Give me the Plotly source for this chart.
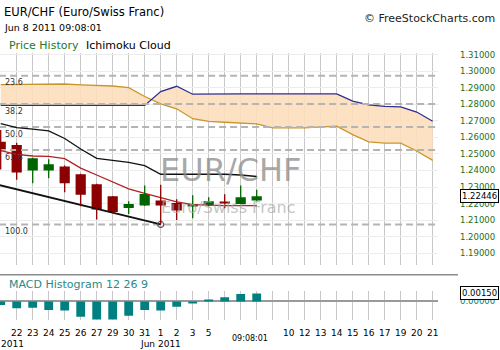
import plotly.graph_objects as go

# ---------------- data ----------------
slots = list(range(28))  # trading-day slots (May 20 ... Jun 21)
day_labels = ["", "22", "23", "24", "25", "26", "27", "29", "30", "31", "1", "2", "3", "5",
              "", "", "", "", "10", "12", "13", "14", "15", "16", "17", "19", "20", "21"]

opens  = [1.25731, 1.25533, 1.23994, 1.23994, 1.24234, 1.23772, 1.23174, 1.22437, 1.21737,
          1.21880, 1.22180, 1.22036, 1.21838, 1.21898, 1.22078, 1.21976, 1.22180]
highs  = [1.26449, 1.25671, 1.24772, 1.24671, 1.24293, 1.23800, 1.23200, 1.22450, 1.22138,
          1.23096, 1.23138, 1.22257, 1.22497, 1.22377, 1.22557, 1.23096, 1.22838]
lows   = [1.24054, 1.23437, 1.23234, 1.23533, 1.22677, 1.21838, 1.21042, 1.21419, 1.21377,
          1.21850, 1.20740, 1.21000, 1.21120, 1.21838, 1.21719, 1.21958, 1.22170]
closes = [1.25234, 1.23874, 1.24731, 1.24371, 1.23234, 1.22539, 1.21641, 1.21497, 1.21976,
          1.22575, 1.21880, 1.21581, 1.21958, 1.22138, 1.22000, 1.22377, 1.22446]

tenkan = [1.25192, 1.24970, 1.24874, 1.24850, 1.24713, 1.24144, 1.23725, 1.23305, 1.22886,
          1.22617, 1.22347, 1.22096, 1.21940, 1.21898, 1.21880, 1.21880, 1.21880]
kijun  = [1.26826, 1.26587, 1.26491, 1.26389, 1.25928, 1.25293, 1.24731, 1.24593, 1.24491,
          1.24293, 1.23772, 1.23772, 1.23772, 1.23772, 1.23772, 1.23725, 1.23635]

senkou_a = [1.27928, 1.27928, 1.27928, 1.27928, 1.27928, 1.27928, 1.27928, 1.27928, 1.27928,
            1.27928, 1.28766, 1.29084, 1.28605, 1.28623, 1.28623, 1.28623, 1.28623, 1.28623,
            1.28623, 1.28623, 1.28623, 1.28623, 1.28186, 1.27964, 1.27868, 1.27844, 1.27527,
            1.26970]
senkou_b = [1.29186, 1.29204, 1.29222, 1.29234, 1.29222, 1.29174, 1.29144, 1.29102, 1.29006,
            1.28467, 1.28024, 1.27725, 1.27126, 1.26970, 1.26910, 1.26850, 1.26808, 1.26569,
            1.26569, 1.26569, 1.26629, 1.26671, 1.26168, 1.25731, 1.25653, 1.25653, 1.25174,
            1.24611]

macd_hist = [-0.0007, -0.0013, -0.0012, -0.0016, -0.0017, -0.0029, -0.0034, -0.0034, -0.0027,
             -0.0016, -0.0017, -0.0010, -0.0004, 0.0003, 0.0008, 0.0014, 0.0015]

trend_x = [-1, 10]
trend_y = [1.2333, 1.2074]

fib_high, fib_low = 1.3250, 1.2074
fib_levels = [23.6, 38.2, 50.0, 61.8, 100.0]

y_ticks = [1.19, 1.20, 1.21, 1.22, 1.23, 1.24, 1.25, 1.26, 1.27, 1.28, 1.29, 1.30, 1.31]

# ---------------- helpers ----------------
W, H = 500, 350
def px(x):
    return x / W
def py(y):
    return 1 - y / H

FONT = "DejaVu Sans"
RED = "#8b0000"
GREEN = "#006400"
TEAL = "#008080"

n = len(opens)
kx = slots[:n]

fig = go.Figure()

# cloud
fig.add_trace(go.Scatter(x=slots, y=senkou_b, mode="lines", line=dict(color="#c8962a", width=1.3),
                         xaxis="x", yaxis="y"))
fig.add_trace(go.Scatter(x=slots, y=senkou_a, mode="lines", line=dict(color="#2e2e8f", width=1.3),
                         fill="tonexty", fillcolor="rgba(253,222,188,0.9)", xaxis="x", yaxis="y"))

# fib lines
x_end = 27.15
for lvl in fib_levels:
    v = fib_high - lvl / 100 * (fib_high - fib_low)
    fig.add_trace(go.Scatter(x=[-0.1, x_end], y=[v, v], mode="lines",
                             line=dict(color="#b4b4b4", width=2, dash="7px,4px"),
                             xaxis="x", yaxis="y"))

# kijun / tenkan
fig.add_trace(go.Scatter(x=kx, y=kijun, mode="lines", line=dict(color="#111111", width=1.3)))
fig.add_trace(go.Scatter(x=kx, y=tenkan, mode="lines", line=dict(color="#b22222", width=1.3)))

# trend line
fig.add_trace(go.Scatter(x=trend_x, y=trend_y, mode="lines", line=dict(color="#111111", width=1.8)))
fig.add_trace(go.Scatter(x=[trend_x[-1]], y=[trend_y[-1]], mode="markers",
                         marker=dict(symbol="circle-open", size=6, color="#555555", line=dict(width=1.2))))

# candles: wicks
for up, col in ((False, RED), (True, GREEN)):
    wx, wy = [], []
    for i in range(n):
        if (closes[i] >= opens[i]) == up:
            wx += [kx[i], kx[i], None]
            wy += [lows[i], highs[i], None]
    fig.add_trace(go.Scatter(x=wx, y=wy, mode="lines", line=dict(color=col, width=1.3)))

# candles: bodies
body_h = [max(abs(c - o), 0.00008) for o, c in zip(opens, closes)]
body_b = [min(o, c) for o, c in zip(opens, closes)]
body_c = [GREEN if c >= o else RED for o, c in zip(opens, closes)]
fig.add_trace(go.Bar(x=kx, y=body_h, base=body_b, width=0.64, marker=dict(color=body_c, line=dict(width=0)),
                     xaxis="x", yaxis="y"))

# MACD histogram
fig.add_trace(go.Bar(x=kx, y=macd_hist, width=0.55, marker=dict(color=TEAL, line=dict(width=0)),
                     xaxis="x2", yaxis="y2"))

# ---------------- layout ----------------
x_dom = [0, px(438)]
x_rng = [(-0.7) / 16, (438 - 0.7) / 16]

fig.update_layout(
    width=W, height=H, margin=dict(l=0, r=0, t=0, b=0),
    paper_bgcolor="white", plot_bgcolor="white",
    showlegend=False, hovermode=False, barmode="overlay",
    font=dict(family=FONT, size=9, color="#000"),
    xaxis=dict(domain=x_dom, range=x_rng, anchor="y", tickvals=slots, showticklabels=False,
               showgrid=True, gridcolor="#c8c8c8", gridwidth=1, zeroline=False, ticks=""),
    yaxis=dict(domain=[py(264), py(50)], range=[1.31 - 212 / 1670, 1.31 + 2 / 1670], side="right",
               anchor="x", tickvals=y_ticks, ticktext=[f"{v:.5f}" for v in y_ticks],
               tickfont=dict(family=FONT, size=8.5, color="#1a6e1a"), ticklabelstandoff=21,
               showgrid=True, gridcolor="#ececec", zeroline=False, ticks=""),
    xaxis2=dict(domain=x_dom, range=x_rng, anchor="y2", matches="x", tickvals=slots, ticktext=day_labels,
                showgrid=True, gridcolor="#c8c8c8", gridwidth=1, zeroline=False, ticks="",
                tickfont=dict(family=FONT, size=9, color="#000"), ticklabelstandoff=6),
    yaxis2=dict(domain=[py(320), py(290)], range=[-0.0035625, 0.0020625], side="right", anchor="x2",
                tickvals=[0], ticktext=["0.00000"], tickfont=dict(family=FONT, size=8.5, color=TEAL),
                ticklabelstandoff=21, showgrid=False, zeroline=True, zerolinecolor="#9a9a9a",
                zerolinewidth=1.5, ticks=""),
)

# separator line under main chart
fig.add_shape(type="line", xref="paper", yref="paper", x0=0, x1=px(458), y0=py(274), y1=py(274),
              line=dict(color="#8c8c8c", width=1.5))

ann = []
def text(x, y, s, size, color="#000", xanchor="left", **kw):
    ann.append(dict(x=x, y=y, xref=kw.pop("xref", "paper"), yref=kw.pop("yref", "paper"), text=s,
                    showarrow=False, xanchor=xanchor, yanchor="middle",
                    font=dict(family=FONT, size=size, color=color), **kw))

text(px(2), py(9.5), "EUR/CHF (Euro/Swiss Franc)", 11.5)
text(px(2), py(25), "Jun 8 2011 09:08:01", 9.5)
text(px(7), py(43), "Price History", 11, "#1e7b1e")
text(px(84), py(43), "Ichimoku Cloud", 11)
text(px(497), py(16), "© FreeStockCharts.com", 11, "#222", xanchor="right")
text(px(158), py(168.5), "EUR/CHF", 32, "rgba(140,140,140,0.75)")
text(px(159), py(206), "Euro/Swiss Franc", 16, "rgba(170,170,170,0.7)")
for lvl in fib_levels:
    v = fib_high - lvl / 100 * (fib_high - fib_low)
    text(px(3), v, f"{lvl:.1f}", 8, "#333", yref="y", yshift=-7)
text(px(7), py(284), "MACD Histogram 12 26 9", 11, "#2a8a8a")
text(px(0), py(344), "2011", 9, borderpad=0)
text(10, py(344), "Jun 2011", 9, xanchor="center", xref="x2", borderpad=0)
text(px(250), py(338), "09:08:01", 8, xanchor="center")

ann.append(dict(x=px(479.5), y=closes[-1], xref="paper", yref="y", text=f"{closes[-1]:.5f}",
                showarrow=False, xanchor="center", yanchor="middle", bgcolor="white",
                bordercolor="#000", borderwidth=1, borderpad=1,
                font=dict(family=FONT, size=8.5, color="#000")))
ann.append(dict(x=px(479.5), y=macd_hist[-1], xref="paper", yref="y2", text=f"{macd_hist[-1]:.5f}",
                showarrow=False, xanchor="center", yanchor="middle", bgcolor="white",
                bordercolor="#000", borderwidth=1, borderpad=1,
                font=dict(family=FONT, size=8.5, color="#000")))
fig.update_layout(annotations=ann)

fig.write_html("out.html")
